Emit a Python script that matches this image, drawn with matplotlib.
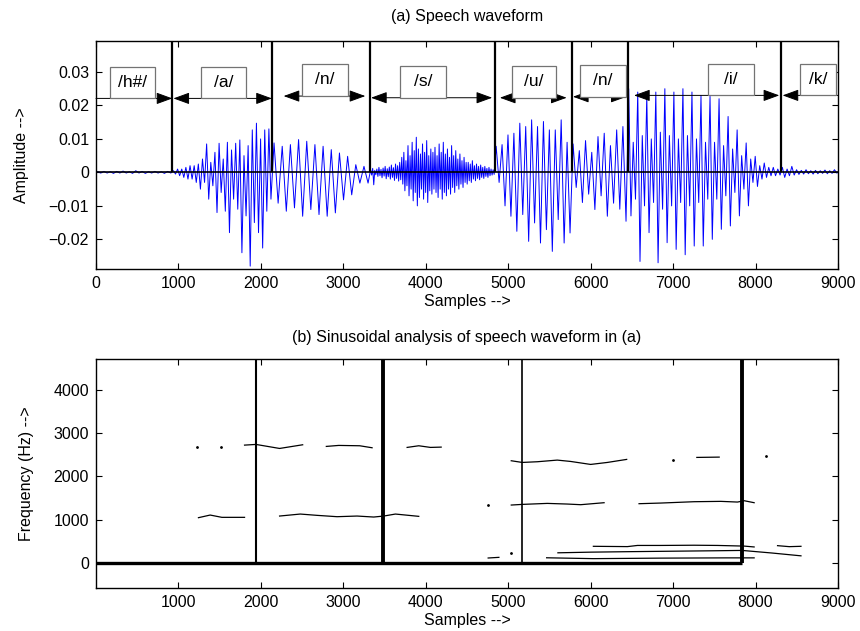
import numpy as np
import matplotlib
matplotlib.use("Agg")
from matplotlib import pyplot as plt
from matplotlib.patches import Rectangle

plt.rcParams['font.family'] = ['Liberation Sans', 'DejaVu Sans']
plt.rcParams['font.size'] = 11

# ---- (a) waveform: peak values, in units of 1e-3 ----
bounds = [0, 927, 2135, 3325, 4836, 5768, 6448, 8311, 9000]
phones = ["/h#/", "/a/", "/n/", "/s/", "/u/", "/n/", "/i/", "/k/"]

up_hh = [0.2, 0.3, 0.2, 0.3, 0.4, 0.2, 0.5, 0.3, 0.2, 0.3, 0.2, 0.3]
dn_hh = [-0.2, -0.2, -0.3, -0.2, -0.2, -0.3, -0.2, -0.3, -0.2, -0.2, -0.3, -0.2]
up_a = [0.5, 1, 1, 1.5, 2, 2, 2.5, 4, 8.5, 3, 6, 8.7, 4, 9, 6.7, 8.7, 9.7, 5, 8,
        12.7, 14.7, 10, 12.7, 13]
dn_a = [-0.5, -1, -1.5, -2, -2, -3, -5, -3, -8, -4, -12, -6, -11.6, -18, -8, -11,
        -24, -13, -28, -15, -18, -22.6, -11.6, -8]
up_n = [8.8, 7.8, 8.3, 9.8, 9.3, 8.3, 7.8, 6.8, 5.8, 4.8, 2.3, 1.8]
dn_n = [-9.2, -11.6, -10.6, -13.1, -11.1, -12.6, -13.1, -12.1, -8.2, -6.7, -3.2, -3.2]
up_s = [0.8, 1.2, 0.6, 1.0, 1.5, 0.9, 1.3, 1.8, 1.1, 1.6, 2.2, 1.4, 2.5, 2.0, 3.0,
        4.5, 6, 3.5, 8, 5, 9, 6.5, 10.5, 7, 5.5, 8.5, 6, 9.5, 5, 7, 6,
        7.5, 5, 8.5, 6, 9, 5.5, 7, 4.5, 8, 5, 6.5, 4, 5.5, 3.5, 4.5, 3,
        3, 2.5, 3.5, 2, 2.5, 1.8, 2.2, 1.5, 1.8, 1.2, 1.5, 1, 0.8]
dn_s = [-0.8, -3.7, -0.7, -1.2, -1.0, -1.6, -1.1, -1.9, -1.3, -2.0, -1.5, -2.4, -1.8, -2.6, -2.2,
        -3.5, -5.5, -4, -7, -5, -8.5, -6, -10, -7.5, -5, -8, -6, -9, -5.5, -6.5, -5,
        -6, -7.5, -5, -8, -6, -7, -5, -6.5, -4.5, -6, -4, -5, -3.5, -4.5, -3, -3.5,
        -2.5, -3, -2, -2.5, -1.8, -2.2, -1.5, -1.8, -1.2, -1.5, -1, -0.8, -0.6]
up_u = [7.8, 8.3, 11.2, 11.7, 14.7, 13.7, 15.7, 13.7, 15.2, 12.7, 12.7, 15.7, 9]
dn_u = [-3, -10, -13.1, -17.6, -12.6, -20.6, -15.1, -21.1, -17.1, -23.6, -14.1, -21.1, -18.1]
up_n2 = [8.5, 6.5, 9.5, 6, 10.7, 11.7, 8, 12.7, 13.7]
dn_n2 = [-4.5, -9, -6.5, -11.1, -7, -13.1, -9.2, -11, -14.6]
up_i = [25, 9, 24, 11, 23, 10, 24, 12, 25, 11, 24, 10, 25, 11, 24, 10, 23, 9,
        22.7, 9, 22, 8, 16.7, 7, 12.7, 5, 8.8, 4, 4.8, 2, 2.8, 1.5, 1.5, 1]
dn_i = [-13, -8, -26.6, -10, -18, -9, -27, -11, -21, -10, -23, -9, -24.6, -10,
        -22, -9, -22, -8, -20, -8, -17, -7, -16, -6, -13, -5, -10, -3, -4.2, -2,
        -1.5, -1, -1, -0.8]
up_k = [1.5, 1, 1.8, 0.8, 0.6, 0.8, 0.5, 0.6, 0.5, 0.7, 0.5, 0.8]
dn_k = [-1.5, -1, -0.8, -0.6, -0.5, -0.4, -0.5, -0.4, -0.3, -0.4, -0.3, -0.2]

ups = [up_hh, up_a, up_n, up_s, up_u, up_n2, up_i, up_k]
dns = [dn_hh, dn_a, dn_n, dn_s, dn_u, dn_n2, dn_i, dn_k]

# phoneme annotations
arrow_x0 = [0, 939, 2276, 3336, 4899, 5785, 6526, 8328]
arrow_x1 = [927, 2134, 3267, 4806, 5709, 6437, 8288, 9000]
arrow_y = [0.0221, 0.0221, 0.0228, 0.0223, 0.0223, 0.0226, 0.0230, 0.0230]
label_x = [445, 1550, 2776, 3968, 5310, 6150, 7703, 8761]
box_w = [550, 550, 550, 550, 540, 550, 550, 440]

# ---- (b) sinusoidal tracks (samples, Hz) ----
tracks = [
    ([1802, 1940, 2227, 2507], [2722, 2738, 2645, 2730]),
    ([2794, 2944, 3199, 3349], [2692, 2715, 2707, 2661]),
    ([3774, 3915, 4057, 4187], [2669, 2707, 2669, 2676]),
    ([1243, 1385, 1527, 1802], [1046, 1107, 1054, 1054]),
    ([2227, 2478, 2681, 2924, 3167, 3369, 3491, 3632, 3915],
     [1084, 1130, 1100, 1069, 1084, 1061, 1084, 1130, 1077]),
    ([5037, 5170, 5353, 5595, 5757, 6000, 6203, 6437],
     [2361, 2322, 2338, 2376, 2345, 2276, 2322, 2392]),
    ([7288, 7559], [2438, 2445]),
    ([5037, 5170, 5474, 5717, 5879, 6163], [1338, 1353, 1376, 1361, 1346, 1392]),
    ([6587, 6850, 7255, 7579, 7781, 7862, 7983], [1369, 1384, 1415, 1423, 1407, 1438, 1392]),
    ([6033, 6446, 6568, 6850, 7255, 7539, 7862, 7983], [385, 378, 405, 405, 410, 405, 390, 370]),
    ([5603, 6000, 6500, 7000, 7500, 7837, 8200, 8551], [235, 250, 262, 272, 282, 290, 230, 165]),
    ([5466, 6033, 6843, 7652, 7983], [120, 100, 112, 118, 118]),
    ([4757, 4887], [115, 130]),
    ([8267, 8409, 8551], [400, 377, 385]),
]
dots_x = [1231, 1519, 7004, 8130, 4757, 5037]
dots_y = [2669, 2669, 2384, 2461, 1346, 231]

# boundary lines in (b)
vline_x = [1940, 3483, 5172, 7837]
vline_w = [1.5, 2.8, 1.2, 2.8]

fig = plt.figure(figsize=(8.6, 6.31), dpi=100)
ax1 = fig.add_axes([0.1116, 0.574, 0.8628, 0.3613])
ax2 = fig.add_axes([0.1116, 0.068, 0.8628, 0.363])

# waveform
xs, ys = [], []
for i in range(len(ups)):
    a, b = bounds[i], bounds[i + 1]
    n = len(ups[i])
    step = (b - a) / n
    k = np.arange(n)
    xx = np.empty(2 * n)
    yy = np.empty(2 * n)
    xx[0::2] = a + (k + 0.25) * step
    xx[1::2] = a + (k + 0.75) * step
    yy[0::2] = np.array(ups[i]) * 1e-3
    yy[1::2] = np.array(dns[i]) * 1e-3
    xs.append(xx)
    ys.append(yy)
xs = np.concatenate([[0], *xs, [9000]])
ys = np.concatenate([[0], *ys, [0]])
ax1.plot(xs, ys, color='b', lw=0.7)

ymin1, ymax1 = -0.0288, 0.0393
ax1.axhline(0, color='k', lw=1.2)
ax1.vlines(bounds[1:-1], 0, ymax1, color='k', lw=1.6)

for i in range(len(phones)):
    if i == 0:
        st = '-|>'
    elif i == len(phones) - 1:
        st = '<|-'
    else:
        st = '<|-|>'
    ax1.annotate('', xy=(arrow_x1[i], arrow_y[i]), xytext=(arrow_x0[i], arrow_y[i]),
                 arrowprops=dict(arrowstyle=st + ',head_length=1.1,head_width=0.4',
                                 color='k', lw=0.7, shrinkA=0, shrinkB=0,
                                 mutation_scale=9))
    ax1.add_patch(Rectangle((label_x[i] - box_w[i] / 2, arrow_y[i]), box_w[i], 0.0095,
                            fc='white', ec='0.45', lw=0.9, zorder=3))
    ax1.text(label_x[i], arrow_y[i] + 0.0048, phones[i], ha='center', va='center',
             fontsize=12.5, zorder=4)

ax1.set_xlim(0, 9000)
ax1.set_ylim(ymin1, ymax1)
ax1.set_xticks(np.arange(0, 9001, 1000))
ax1.set_yticks([-0.02, -0.01, 0, 0.01, 0.02, 0.03])
ax1.set_yticklabels(['\u22120.02', '\u22120.01', '0', '0.01', '0.02', '0.03'])
ax1.set_title('(a) Speech waveform', fontsize=11.5, pad=14)
ax1.set_xlabel('Samples -->', labelpad=2, fontsize=11.5)
ax1.set_ylabel('Amplitude -->', labelpad=14, fontsize=11.5)

# sinusoidal analysis
ymin2, ymax2 = -580, 4710
ax2.plot([0, vline_x[-1]], [0, 0], color='k', lw=2.4, solid_capstyle='butt')
for x, w in zip(vline_x, vline_w):
    ax2.plot([x, x], [0, ymax2], color='k', lw=w, solid_capstyle='butt')
for tx, ty in tracks:
    ax2.plot(tx, ty, color='k', lw=0.9)
ax2.plot(dots_x, dots_y, '.', color='k', ms=2)

ax2.set_xlim(0, 9000)
ax2.set_ylim(ymin2, ymax2)
ax2.set_xticks(np.arange(1000, 9001, 1000))
ax2.set_yticks(np.arange(0, 4001, 1000))
ax2.set_title('(b) Sinusoidal analysis of speech waveform in (a)', fontsize=11.5, pad=12)
ax2.set_xlabel('Samples -->', labelpad=2, fontsize=11.5)
ax2.set_ylabel('Frequency (Hz) -->', labelpad=14, fontsize=11.5)

for ax in (ax1, ax2):
    ax.tick_params(direction='in', top=True, right=True, length=4, width=0.8,
                   labelsize=11.5, pad=5)
    for s in ax.spines.values():
        s.set_linewidth(1.0)

fig.savefig('out.png', dpi=100)
